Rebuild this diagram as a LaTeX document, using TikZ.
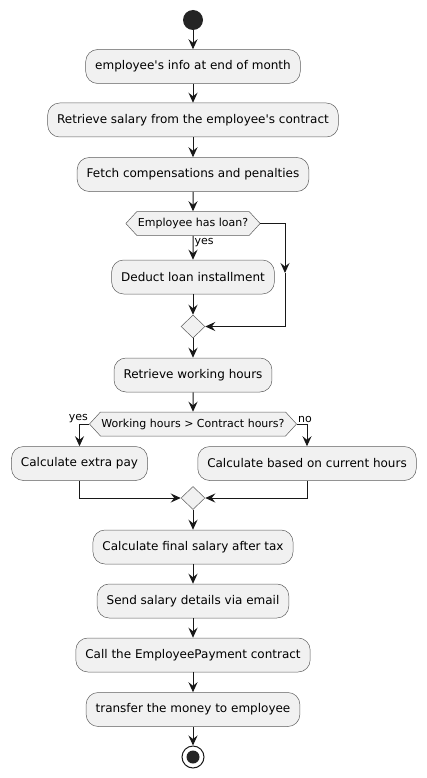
\documentclass[tikz,border=0pt]{standalone}
\usepackage{fontspec}
\setmainfont{DejaVu Sans}
\usetikzlibrary{shapes.geometric,shapes.symbols,arrows.meta,positioning}

\definecolor{actfill}{HTML}{F1F1F1}
\definecolor{actline}{HTML}{181818}

\tikzset{
    act/.style={draw=actline!70, line width=0.5pt, fill=actfill, rounded corners=12pt,
        minimum height=34pt, inner xsep=9.5pt, font=\fontsize{12}{14}\selectfont},
    branch/.style={signal, signal to=west and east, signal pointer angle=95, draw=actline!70,
        line width=0.5pt, fill=actfill, minimum height=24pt, inner xsep=1pt,
        font=\fontsize{11}{13}\selectfont},
    merge/.style={diamond, draw=actline!70, line width=0.5pt, fill=actfill,
        minimum width=24pt, minimum height=23pt, inner sep=0pt},
    flow/.style={draw=actline, line width=1pt, -{Stealth[length=10pt,width=9pt,inset=3.5pt]}},
    lbl/.style={font=\fontsize{11}{13}\selectfont, inner sep=1pt}
}

\begin{document}
\begin{tikzpicture}[x=1pt, y=-1pt]
    \useasboundingbox (0,0) rectangle (427,778);

    % Start
    \node[circle, fill=actline!95, minimum size=20pt, inner sep=0pt] (start) at (193,20) {};

    % Payroll preparation
    \node[act] (info) at (193,66.5) {employee\textquotesingle s info at end of month};
    \node[act] (salary) at (193,120) {Retrieve salary from the employee\textquotesingle s contract};
    \node[act] (comp) at (193,174.5) {Fetch compensations and penalties};

    % Loan check
    \node[branch] (loan) at (193,223.5) {Employee has loan?};
    \node[act] (deduct) at (193,277) {Deduct loan installment};
    \node[merge] (mloan) at (193,326.5) {};
    \coordinate (skip) at (285,273);

    % Working hours check
    \node[act] (hours) at (193,375) {Retrieve working hours};
    \node[branch] (over) at (193,424) {Working hours > Contract hours?};
    \node[act] (extra) at (79.5,463.5) {Calculate extra pay};
    \node[act] (normal) at (307,463.5) {Calculate based on current hours};
    \node[merge] (mhours) at (193,498) {};

    % Payment
    \node[act] (final) at (193,547) {Calculate final salary after tax};
    \node[act] (mail) at (193,601) {Send salary details via email};
    \node[act] (call) at (193,655) {Call the EmployeePayment contract};
    \node[act] (transfer) at (193,709.5) {transfer the money to employee};

    % End
    \node[circle, draw=actline, line width=1pt, fill=white, minimum size=22pt, inner sep=0pt] (stop) at (193,757) {};
    \node[circle, fill=actline!95, minimum size=13pt, inner sep=0pt] at (stop) {};

    % Flows
    \draw[flow] (start) -- (info);
    \draw[flow] (info) -- (salary);
    \draw[flow] (salary) -- (comp);
    \draw[flow] (comp) -- (loan);
    \draw[flow] (loan) -- node[lbl, anchor=west, pos=0.3] {yes} (deduct);
    \draw[flow] (deduct) -- (mloan);
    \draw[flow] (loan.east) -| (skip);
    \draw[flow] (skip) |- (mloan.east);
    \draw[flow] (mloan) -- (hours);
    \draw[flow] (hours) -- (over);
    \draw[flow] (over.west) -| (extra.north);
    \draw[flow] (over.east) -| (normal.north);
    \node[lbl, anchor=south east] at (over.west) {yes};
    \node[lbl, anchor=south west] at (over.east) {no};
    \draw[flow] (extra.south) |- (mhours.west);
    \draw[flow] (normal.south) |- (mhours.east);
    \draw[flow] (mhours) -- (final);
    \draw[flow] (final) -- (mail);
    \draw[flow] (mail) -- (call);
    \draw[flow] (call) -- (transfer);
    \draw[flow] (transfer) -- (stop);
\end{tikzpicture}
\end{document}
